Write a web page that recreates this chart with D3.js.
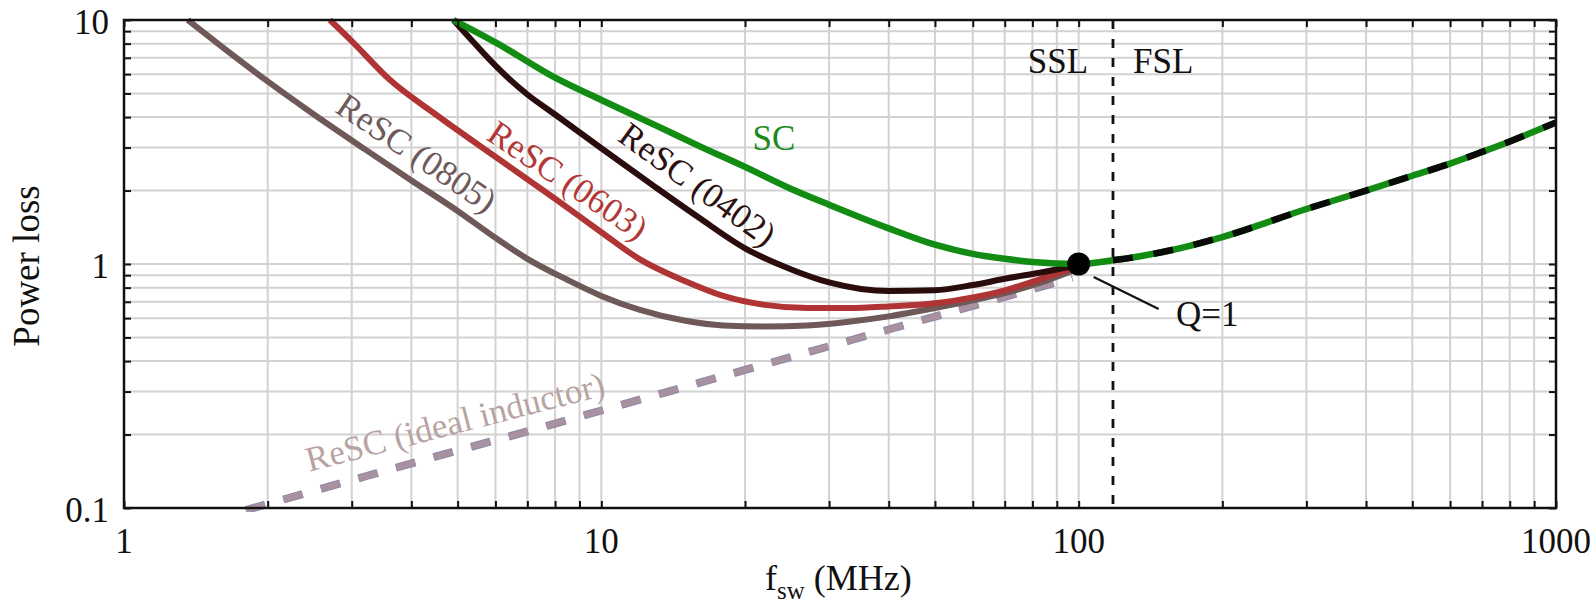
<!DOCTYPE html>
<html><head><meta charset="utf-8">
<script src="https://cdn.jsdelivr.net/npm/d3@7"></script>
<style>
body{margin:0;background:#fff}
svg{display:block}
</style>
</head><body>
<svg id="c" width="1590" height="612" font-family="'Liberation Serif', 'DejaVu Serif', serif"></svg>
<script>
// ---- data ----
const scFreq = [4.9, 6, 8, 10, 13, 16, 20, 25, 30, 40, 50, 60, 70, 80, 100];
const scLoss = [10, 8.1, 5.8, 4.7, 3.7, 3.05, 2.5, 2.03, 1.75, 1.4, 1.2, 1.1, 1.05, 1.02, 1.0];

const fslFreq = [100, 120, 150, 200, 300, 400, 500, 600, 700, 800, 1000];
const fslLoss = [1.0, 1.04, 1.12, 1.29, 1.68, 2.0, 2.3, 2.58, 2.88, 3.18, 3.8];

const resc0402Freq = [4.9, 5.4, 6.0, 7, 8, 10, 13, 16, 20, 25, 30, 35, 40, 50, 60, 70, 85, 100];
const resc0402Loss = [10, 8.1, 6.5, 4.95, 4.1, 2.98, 2.06, 1.55, 1.16, 0.95, 0.84, 0.79, 0.775, 0.78, 0.82, 0.87, 0.93, 0.99];

const resc0603Freq = [2.7, 3.0, 3.6, 4.5, 6, 8, 10, 12, 15, 18, 22, 27, 33, 40, 50, 60, 70, 85, 100];
const resc0603Loss = [10, 8.2, 5.7, 4.1, 2.75, 1.85, 1.35, 1.05, 0.85, 0.74, 0.68, 0.66, 0.66, 0.67, 0.69, 0.73, 0.78, 0.88, 0.98];

const resc0805Freq = [1.36, 1.6, 2.0, 2.5, 3.2, 4, 5, 6, 7, 8.5, 10, 12, 15, 18, 22, 27, 33, 40, 50, 60, 70, 85, 100];
const resc0805Loss = [10, 7.8, 5.6, 4.1, 2.95, 2.2, 1.65, 1.28, 1.05, 0.86, 0.74, 0.65, 0.585, 0.56, 0.555, 0.56, 0.58, 0.61, 0.66, 0.71, 0.76, 0.85, 0.96];

const idealFreq = [1.8, 3, 5, 7, 10, 15, 20, 30, 40, 50, 60, 70, 85, 97];
const idealLoss = [0.098, 0.13, 0.172, 0.206, 0.251, 0.314, 0.368, 0.46, 0.539, 0.609, 0.673, 0.733, 0.815, 0.877];

const boundaryFreq = 118;       // SSL / FSL boundary
const qPoint = [100, 1];        // Q=1 marker

const xTickValues = [1, 10, 100, 1000];
const xTickLabels = ["1", "10", "100", "1000"];
const yTickValues = [0.1, 1, 10];
const yTickLabels = ["0.1", "1", "10"];

const annotations = [
  {text: "ReSC (0805)", f: 4.1, p: 2.85, angle: 34, color: "#6e5a5a"},
  {text: "ReSC (0603)", f: 8.5, p: 2.2, angle: 34, color: "#b23838"},
  {text: "ReSC (0402)", f: 15.9, p: 2.12, angle: 36, color: "#2b1010"},
  {text: "SC", f: 23.0, p: 3.28, angle: 0, color: "#1d8a1d"},
  {text: "ReSC (ideal inductor)", f: 4.94, p: 0.225, angle: -14.5, color: "#b8a3a3"},
  {text: "SSL", f: 90.5, p: 6.76, angle: 0, color: "#111"},
  {text: "FSL", f: 150.3, p: 6.76, angle: 0, color: "#111"},
  {text: "Q=1", f: 186, p: 0.621, angle: 0, color: "#111"}
];

// ---- chart ----
const plot = {left: 124, right: 1556, top: 20, bottom: 508};
const svg = d3.select("#c");
const x = d3.scaleLog().domain([1, 1000]).range([plot.left, plot.right]);
const y = d3.scaleLog().domain([0.1, 10]).range([plot.bottom, plot.top]);

const zip = (a, b) => a.map((v, i) => [v, b[i]]);

// grid
const gx = x.ticks(), gy = y.ticks();
svg.append("g").selectAll("line").data(gx).join("line")
  .attr("x1", d => x(d)).attr("x2", d => x(d))
  .attr("y1", plot.top).attr("y2", plot.bottom)
  .attr("stroke", "#d2d2d2").attr("stroke-width", 2);
svg.append("g").selectAll("line").data(gy).join("line")
  .attr("y1", d => y(d)).attr("y2", d => y(d))
  .attr("x1", plot.left).attr("x2", plot.right)
  .attr("stroke", "#d2d2d2").attr("stroke-width", 2);

// clip
svg.append("clipPath").attr("id", "clip").append("rect")
  .attr("x", plot.left).attr("y", plot.top - 4)
  .attr("width", plot.right - plot.left).attr("height", plot.bottom - plot.top + 8);

const line = d3.line().x(d => x(d[0])).y(d => y(d[1])).curve(d3.curveMonotoneX);
const g = svg.append("g").attr("clip-path", "url(#clip)");

// ideal inductor (dashed)
g.append("path").datum(zip(idealFreq, idealLoss))
  .attr("d", line).attr("fill", "none")
  .attr("stroke", "#8f86a8").attr("stroke-width", 8)
  .attr("stroke-dasharray", "20 19");
g.append("path").datum(zip(idealFreq, idealLoss))
  .attr("d", line).attr("fill", "none")
  .attr("stroke", "#a8929f").attr("stroke-width", 6)
  .attr("stroke-dasharray", "20 19");

g.append("path").datum(zip(resc0805Freq, resc0805Loss))
  .attr("d", line).attr("fill", "none").attr("stroke", "#6e5858").attr("stroke-width", 6);
g.append("path").datum(zip(resc0603Freq, resc0603Loss))
  .attr("d", line).attr("fill", "none").attr("stroke", "#b03434").attr("stroke-width", 6);
g.append("path").datum(zip(resc0402Freq, resc0402Loss))
  .attr("d", line).attr("fill", "none").attr("stroke", "#2a0c0c").attr("stroke-width", 6);

const scAll = zip(scFreq, scLoss).concat(zip(fslFreq, fslLoss).slice(1));
g.append("path").datum(scAll)
  .attr("d", line).attr("fill", "none").attr("stroke", "#128c12").attr("stroke-width", 6.5);

// shared FSL part of ReSC curves (black dashes on green)
const fslPts = zip(fslFreq, fslLoss);
const interpAt = f => {
  for (let i = 0; i < fslPts.length - 1; i++) {
    const a = fslPts[i], b = fslPts[i + 1];
    if (f >= a[0] && f <= b[0]) {
      const t = Math.log(f / a[0]) / Math.log(b[0] / a[0]);
      return Math.exp(Math.log(a[1]) + t * Math.log(b[1] / a[1]));
    }
  }
  return fslPts[fslPts.length - 1][1];
};
const fslDashed = [[boundaryFreq, interpAt(boundaryFreq)]].concat(fslPts.filter(d => d[0] > boundaryFreq));
g.append("path").datum(fslDashed)
  .attr("d", line).attr("fill", "none").attr("stroke", "#0a0a0a").attr("stroke-width", 6.5)
  .attr("stroke-dasharray", "20 21");

// boundary dashed line
svg.append("line")
  .attr("x1", x(boundaryFreq)).attr("x2", x(boundaryFreq))
  .attr("y1", plot.top).attr("y2", plot.bottom)
  .attr("stroke", "#111").attr("stroke-width", 2.8).attr("stroke-dasharray", "9 10");

// Q=1 marker and callout
const qx = x(qPoint[0]), qy = y(qPoint[1]);
svg.append("line").attr("x1", qx + 15).attr("y1", qy + 13).attr("x2", qx + 80).attr("y2", qy + 45)
  .attr("stroke", "#111").attr("stroke-width", 2.2);
svg.append("circle").attr("cx", qx).attr("cy", qy).attr("r", 11.5).attr("fill", "#000");

// axes: ticks inward on all four sides
const tk = 7;
svg.append("g").attr("transform", `translate(0,${plot.bottom})`)
  .call(d3.axisBottom(x).tickValues(gx).tickSizeInner(-tk).tickSizeOuter(0).tickFormat(""));
svg.append("g").attr("transform", `translate(0,${plot.top})`)
  .call(d3.axisTop(x).tickValues(gx).tickSizeInner(-tk).tickSizeOuter(0).tickFormat(""));
svg.append("g").attr("transform", `translate(${plot.left},0)`)
  .call(d3.axisLeft(y).tickValues(gy).tickSizeInner(-tk).tickSizeOuter(0).tickFormat(""));
svg.append("g").attr("transform", `translate(${plot.right},0)`)
  .call(d3.axisRight(y).tickValues(gy).tickSizeInner(-tk).tickSizeOuter(0).tickFormat(""));
svg.selectAll(".domain").remove();
svg.selectAll(".tick line").attr("stroke", "#111").attr("stroke-width", 2);

// frame
svg.append("rect").attr("x", plot.left).attr("y", plot.top)
  .attr("width", plot.right - plot.left).attr("height", plot.bottom - plot.top)
  .attr("fill", "none").attr("stroke", "#111").attr("stroke-width", 2.5);

const FONT = "'Liberation Serif', 'DejaVu Serif', serif";

// tick labels
svg.append("g").selectAll("text").data(xTickValues).join("text")
  .attr("x", d => x(d)).attr("y", plot.bottom + 45)
  .attr("font-family", FONT)
  .attr("text-anchor", "middle").attr("font-size", 35).attr("fill", "#111")
  .text((d, i) => xTickLabels[i]);
svg.append("g").selectAll("text").data(yTickValues).join("text")
  .attr("x", plot.left - 15).attr("y", d => y(d)).attr("dy", "0.4em")
  .attr("font-family", FONT)
  .attr("text-anchor", "end").attr("font-size", 35).attr("fill", "#111")
  .text((d, i) => yTickLabels[i]);

// axis titles
svg.append("text").attr("transform", `translate(39,266) rotate(-90)`)
  .attr("font-family", FONT)
  .attr("text-anchor", "middle").attr("font-size", 37).attr("fill", "#111").text("Power loss");
const xt = svg.append("text").attr("x", 765).attr("y", 590).attr("font-size", 36)
  .attr("font-family", FONT).attr("fill", "#111");
xt.append("tspan").text("f");
xt.append("tspan").attr("font-size", 25).attr("dy", 9).text("sw");
xt.append("tspan").attr("dy", -9).text(" (MHz)");

// annotations
svg.append("g").selectAll("text").data(annotations).join("text")
  .attr("transform", d => `translate(${x(d.f)},${y(d.p)}) rotate(${d.angle})`)
  .attr("font-family", FONT)
  .attr("dy", "0.33em").attr("text-anchor", "middle").attr("font-size", 35)
  .attr("fill", d => d.color).text(d => d.text);
</script>
</body></html>
